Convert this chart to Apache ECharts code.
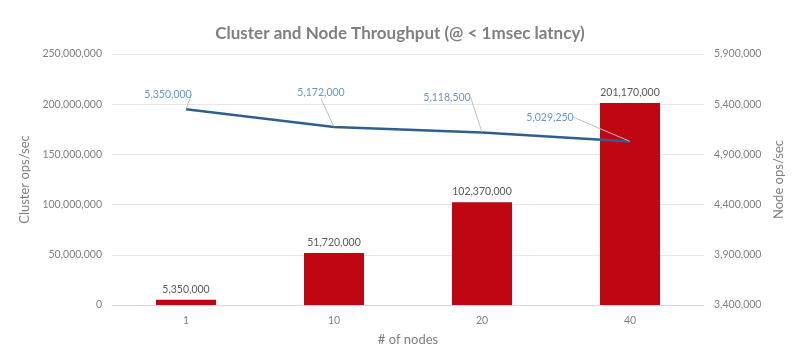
<!DOCTYPE html>
<html>
<head>
<meta charset="utf-8">
<script src="https://cdn.jsdelivr.net/npm/echarts@6/dist/echarts.min.js"></script>
<style>
html,body{margin:0;padding:0;background:#fff;}
#chart{width:800px;height:350px;}
</style>
</head>
<body>
<div id="chart"></div>
<script>
const categories = ['1', '10', '20', '40'];
const clusterOps = [5350000, 51720000, 102370000, 201170000];
const nodeOps = [5350000, 5172000, 5118500, 5029250];
const rightTicks = [3400000, 3900000, 4400000, 4900000, 5400000, 5900000];
const labelShift = [[-18, -4], [-13, -23], [-35, -24], [-80, -13]];

const fmt = v => Number(v).toLocaleString('en-US');
const FONT = 'Lato';
const chart = echarts.init(document.getElementById('chart'));
chart.setOption({
  animation: false,
  backgroundColor: '#ffffff',
  textStyle: { fontFamily: FONT },
  title: {
    text: 'Cluster and Node Throughput (@ < 1msec latncy)',
    left: 'center',
    top: 20,
    textStyle: { fontFamily: FONT, fontSize: 17, fontWeight: 'bold', color: '#7F7F7F' }
  },
  grid: { left: 112, right: 96, top: 54, bottom: 45, outerBoundsMode: 'none' },
  xAxis: {
    type: 'category',
    data: categories,
    name: '# of nodes',
    nameLocation: 'middle',
    nameGap: 28,
    nameTextStyle: { fontFamily: FONT, fontSize: 13, color: '#7F7F7F' },
    axisLine: { lineStyle: { color: '#D9D9D9' } },
    axisTick: { show: false },
    axisLabel: { fontFamily: FONT, fontSize: 10.5, color: '#7F7F7F', margin: 10 }
  },
  yAxis: [
    {
      type: 'value',
      min: 0, max: 250000000, interval: 50000000,
      name: 'Cluster ops/sec',
      nameLocation: 'middle',
      nameGap: 67,
      nameTextStyle: { fontFamily: FONT, fontSize: 13, color: '#7F7F7F' },
      axisLine: { show: false },
      axisTick: { show: false },
      splitLine: { lineStyle: { color: '#E6E6E6' } },
      axisLabel: { fontFamily: FONT, fontSize: 10.5, color: '#7F7F7F', margin: 10, formatter: fmt }
    },
    {
      type: 'value',
      min: 3400000, max: 5900000,
      name: 'Node ops/sec',
      nameLocation: 'middle',
      nameGap: 56,
      nameRotate: 90,
      nameTextStyle: { fontFamily: FONT, fontSize: 13, color: '#7F7F7F' },
      axisLine: { show: false },
      axisTick: { show: false },
      splitLine: { show: false },
      axisLabel: { fontFamily: FONT, fontSize: 10.5, color: '#7F7F7F', margin: 10, formatter: fmt, customValues: rightTicks }
    }
  ],
  series: [
    {
      type: 'bar',
      data: clusterOps,
      yAxisIndex: 0,
      barWidth: 60,
      itemStyle: { color: '#C00613' },
      label: { show: true, position: 'top', distance: 5, fontFamily: FONT, fontSize: 10.5, color: '#595959', formatter: p => fmt(p.value) }
    },
    {
      type: 'line',
      data: nodeOps,
      yAxisIndex: 1,
      showSymbol: true,
      symbol: 'circle',
      symbolSize: 1,
      itemStyle: { color: 'rgba(0,0,0,0)' },
      lineStyle: { color: '#2F5F8C', width: 2.5 },
      label: { show: true, position: 'top', distance: 5, fontFamily: FONT, fontSize: 10.5, color: '#6A96C6', formatter: p => fmt(p.value) },
      labelLine: { show: true, lineStyle: { color: '#BFBFBF', width: 1 } },
      labelLayout: p => ({ dx: labelShift[p.dataIndex][0], dy: labelShift[p.dataIndex][1] }),
      z: 3
    }
  ]
});
</script>
</body>
</html>
